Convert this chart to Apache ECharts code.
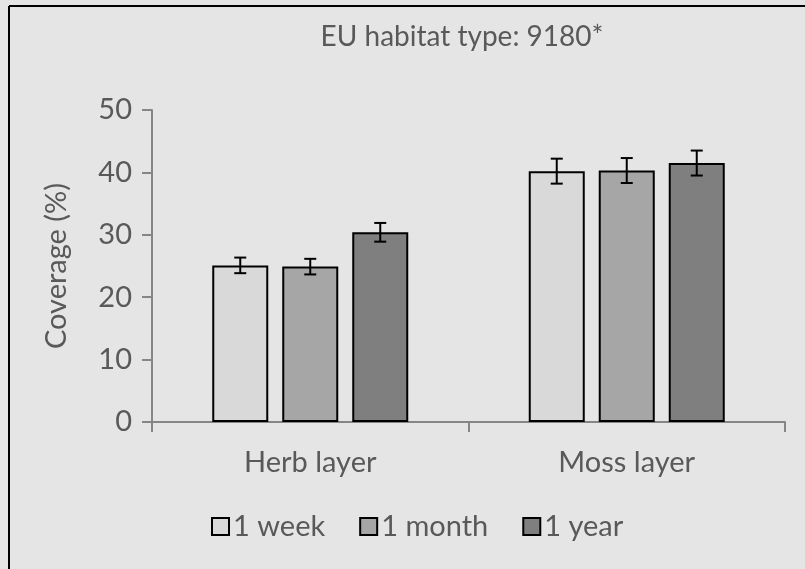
<!DOCTYPE html>
<html>
<head>
<meta charset="utf-8">
<script src="https://cdn.jsdelivr.net/npm/echarts@6/dist/echarts.min.js"></script>
<style>
  html, body { margin: 0; padding: 0; background: #e5e5e5; }
  #main { width: 805px; height: 569px; }
</style>
</head>
<body>
<div id="main"></div>
<script>
  // data
  var categories = ['Herb layer', 'Moss layer']
  var seriesNames = ['1 week', '1 month', '1 year']
  var week = [25.1, 40.2]
  var month = [24.9, 40.3]
  var year = [30.4, 41.5]
  var weekErr = [1.25, 2.0]
  var monthErr = [1.25, 2.0]
  var yearErr = [1.5, 2.0]
  var yTicks = [0, 10, 20, 30, 40, 50]

  var colors = ['#d9d9d9', '#a6a6a6', '#7f7f7f']
  var barW = 56
  var gapW = 14
  var textColor = '#595959'
  var fontFam = 'Lato, "Open Sans", sans-serif'

  var values = [week, month, year]
  var errs = [weekErr, monthErr, yearErr]

  function errorSeries (k) {
    var offset = (k - 1) * (barW + gapW)
    var data = values[k].map(function (v, i) {
      return [i, v - errs[k][i], v + errs[k][i]]
    })
    return {
      type: 'custom',
      name: seriesNames[k] + ' err',
      z: 10,
      silent: true,
      data: data,
      renderItem: function (params, api) {
        var lo = api.coord([api.value(0), api.value(1)])
        var hi = api.coord([api.value(0), api.value(2)])
        var x = lo[0] + offset
        var cap = 6
        var st = { stroke: '#000', lineWidth: 2 }
        return {
          type: 'group',
          children: [
            { type: 'line', shape: { x1: x, y1: hi[1], x2: x, y2: lo[1] }, style: st },
            { type: 'line', shape: { x1: x - cap, y1: hi[1], x2: x + cap, y2: hi[1] }, style: st },
            { type: 'line', shape: { x1: x - cap, y1: lo[1], x2: x + cap, y2: lo[1] }, style: st }
          ]
        }
      }
    }
  }

  var myChart = echarts.init(document.getElementById('main'))
  var series = []
  for (var k = 0; k < 3; k++) {
    series.push({
      name: seriesNames[k],
      type: 'bar',
      data: values[k],
      barWidth: barW,
      barGap: (gapW / barW * 100) + '%',
      itemStyle: { color: colors[k], borderColor: '#000', borderWidth: 2 }
    })
  }
  for (var j = 0; j < 3; j++) series.push(errorSeries(j))

  var option = {
    backgroundColor: '#e5e5e5',
    animation: false,
    title: {
      text: 'EU habitat type: 9180*',
      left: 457,
      top: 18,
      textAlign: 'center',
      textStyle: { color: textColor, fontSize: 28, fontWeight: 'normal', fontFamily: fontFam }
    },
    legend: {
      data: seriesNames.map(function (n, i) {
        return { name: n, itemStyle: { color: colors[i], borderColor: '#000', borderWidth: 2 } }
      }),
      left: 211,
      top: 512,
      padding: 0,
      icon: 'rect',
      itemWidth: 17,
      itemHeight: 17,
      itemGap: 34,
      textStyle: { color: textColor, fontSize: 29, fontFamily: fontFam, padding: [0, 0, 0, -1] }
    },
    grid: { left: 152, right: 20, top: 110, bottom: 147 },
    xAxis: {
      type: 'category',
      data: categories,
      axisLine: { lineStyle: { color: '#868686', width: 2 } },
      axisTick: { show: true, length: 10, alignWithLabel: false, lineStyle: { color: '#868686', width: 2 } },
      axisLabel: { color: textColor, fontSize: 29, fontFamily: fontFam, margin: 26 }
    },
    yAxis: {
      type: 'value',
      min: yTicks[0],
      max: yTicks[yTicks.length - 1],
      interval: yTicks[1] - yTicks[0],
      name: 'Coverage (%)',
      nameLocation: 'middle',
      nameGap: 81,
      nameRotate: 90,
      nameTextStyle: { color: textColor, fontSize: 29, fontFamily: fontFam },
      axisLine: { show: true, lineStyle: { color: '#868686', width: 2 } },
      axisTick: { show: true, length: 10, lineStyle: { color: '#868686', width: 2 } },
      axisLabel: { color: textColor, fontSize: 29, fontFamily: fontFam, margin: 20 },
      splitLine: { show: false }
    },
    graphic: [
      { type: 'line', shape: { x1: 9, y1: 6, x2: 805, y2: 6 }, style: { stroke: '#000', lineWidth: 2 } },
      { type: 'line', shape: { x1: 9, y1: 6, x2: 9, y2: 569 }, style: { stroke: '#000', lineWidth: 2 } }
    ],
    series: series
  }
  myChart.setOption(option)
</script>
</body>
</html>
